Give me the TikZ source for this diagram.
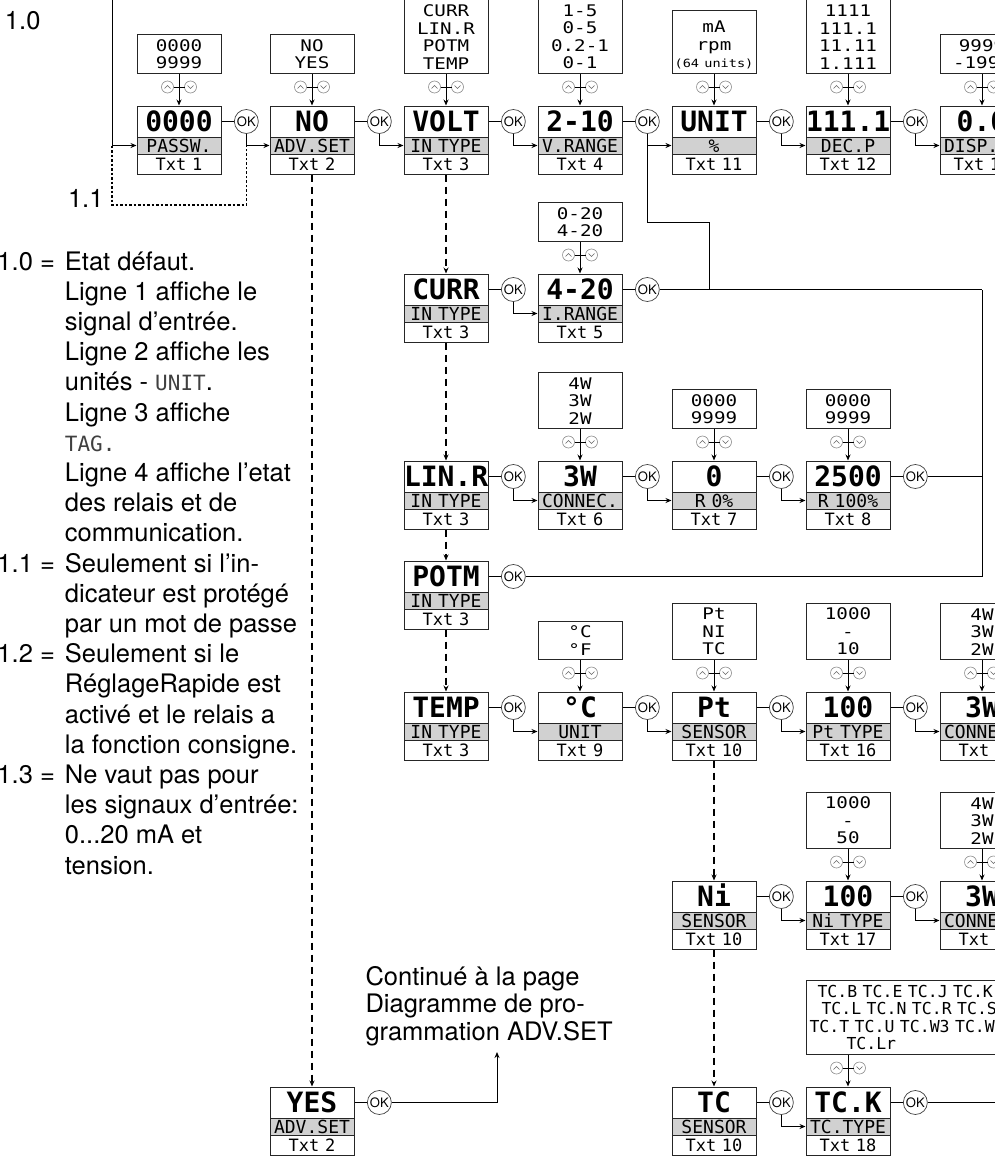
\documentclass[tikz,border=0pt]{standalone}
\usepackage{fontspec}
\setmainfont{TeX Gyre Heros}
\newfontfamily\lcdfont{DejaVu Sans Mono}
\newfontfamily\lcdwide[FakeStretch=1.2]{DejaVu Sans Mono}
\usetikzlibrary{arrows.meta, positioning}

% display: value / parameter / text number
\newcommand{\dispbox}[6]{%
  \node[dval] (#1) at (#2,#3+15.5) {#4};
  \node[dlab] (#1-l) at (#2,#3+39.5) {#5};
  \node[dtxt] (#1-t) at (#2,#3+58) {#6};
}
% choices above a display
\newcommand{\optbox}[4]{%
  \node[dopt] (#1-o) at (#2,#3-32) {#4};
  \pic at (#2,#3-19) {updn};
  \draw[->] (#1-o) -- (#1);
}
\newcommand{\lcdword}[1]{{\lcdfont\fontsize{21}{30.2}\selectfont\color{black!75}#1}}

\begin{document}
\begin{tikzpicture}[x=1pt, y=-1pt, line width=1pt,
    >={Stealth[length=6pt,width=5pt]},
    dval/.style={draw=black!85, text width=84pt, align=center, inner sep=0pt,
      minimum height=31pt, text height=20.5pt, text depth=0pt,
      font=\lcdfont\bfseries\fontsize{28}{28}\selectfont},
    dlab/.style={dval, fill=black!18, minimum height=17pt, text height=13pt,
      font=\lcdfont\fontsize{18}{18}\selectfont},
    dtxt/.style={dval, minimum height=20pt, text height=12.4pt,
      font=\lcdfont\fontsize{17}{17}\selectfont},
    dopt/.style={draw=black!85, anchor=south, text width=84pt, align=center,
      inner xsep=0pt, inner ysep=4.5pt, font=\lcdwide\fontsize{16}{17.5}\selectfont},
    okbtn/.style={circle, draw=black!75, line width=0.7pt, fill=white,
      minimum size=24pt, inner sep=0pt, font=\fontsize{13}{13}\selectfont},
    updc/.style={draw=black!45, line width=0.6pt},
    updv/.style={draw=black!60, line width=0.6pt},
    flowdash/.style={dash pattern=on 7pt off 5pt, line width=1.3pt},
    optdot/.style={dash pattern=on 2.5pt off 2pt, line width=1.3pt},
    note/.style={inner sep=0pt, anchor=north west, font=\fontsize{25.5}{30.2}\selectfont},
    updn/.pic={
      \draw[updc] (-11.5,0) circle[radius=6pt] (11.5,0) circle[radius=6pt];
      \draw[black] (-5.5,0) -- (5.5,0);
      \draw[updv] (-14.5,1.5) -- (-11.5,-1.5) -- (-8.5,1.5);
      \draw[updv] (8.5,-1.5) -- (11.5,1.5) -- (14.5,-1.5);
    }]

\path[use as bounding box, fill=white] (0,0) rectangle (995,1159);

% First row
\dispbox{pw}{179}{106}{0000}{PASSW.}{Txt 1}
\dispbox{adv}{312}{106}{NO}{ADV.SET}{Txt 2}
\dispbox{volt}{446}{106}{VOLT}{IN TYPE}{Txt 3}
\dispbox{vr}{580}{106}{2-10}{V.RANGE}{Txt 4}
\dispbox{unit}{714}{106}{UNIT}{\%}{Txt 11}
\dispbox{decp}{848}{106}{111.1}{DEC.P}{Txt 12}
\dispbox{disp}{982}{106}{0.0}{DISP.LO}{Txt 13}
\optbox{pw}{179}{106}{0000\\9999}
\optbox{adv}{312}{106}{NO\\YES}
\optbox{volt}{446}{106}{\mbox{}\\CURR\\LIN.R\\POTM\\TEMP}
\optbox{vr}{580}{106}{\mbox{}\\1-5\\0-5\\0.2-1\\0-1}
\optbox{unit}{714}{106}{\mbox{}\\mA\\rpm\\{\fontsize{11.3}{17.5}\selectfont(64 units)}}
\optbox{decp}{848}{106}{\mbox{}\\1111\\111.1\\11.11\\1.111}
\optbox{disp}{982}{106}{9999\\-1999}

% Input types
\dispbox{curr}{446}{274}{CURR}{IN TYPE}{Txt 3}
\dispbox{ir}{580}{274}{4-20}{I.RANGE}{Txt 5}
\optbox{ir}{580}{274}{0-20\\4-20}

\dispbox{linr}{446}{461}{LIN.R}{IN TYPE}{Txt 3}
\dispbox{con}{580}{461}{3W}{CONNEC.}{Txt 6}
\dispbox{r0}{714}{461}{0}{R 0\%}{Txt 7}
\dispbox{r100}{848}{461}{2500}{R 100\%}{Txt 8}
\optbox{con}{580}{461}{4W\\3W\\2W}
\optbox{r0}{714}{461}{0000\\9999}
\optbox{r100}{848}{461}{0000\\9999}

\dispbox{potm}{446}{561}{POTM}{IN TYPE}{Txt 3}

\dispbox{temp}{446}{692}{TEMP}{IN TYPE}{Txt 3}
\dispbox{tu}{580}{692}{°C}{UNIT}{Txt 9}
\dispbox{sen}{714}{692}{Pt}{SENSOR}{Txt 10}
\dispbox{ptt}{848}{692}{100}{Pt TYPE}{Txt 16}
\dispbox{con2}{982}{692}{3W}{CONNEC.}{Txt 6}
\optbox{tu}{580}{692}{°C\\°F}
\optbox{sen}{714}{692}{Pt\\NI\\TC}
\optbox{ptt}{848}{692}{1000\\-\\10}
\optbox{con2}{982}{692}{4W\\3W\\2W}

\dispbox{ni}{714}{881}{Ni}{SENSOR}{Txt 10}
\dispbox{nit}{848}{881}{100}{Ni TYPE}{Txt 17}
\dispbox{con3}{982}{881}{3W}{CONNEC.}{Txt 6}
\optbox{nit}{848}{881}{1000\\-\\50}
\optbox{con3}{982}{881}{4W\\3W\\2W}

\dispbox{yes}{312}{1087}{YES}{ADV.SET}{Txt 2}
\dispbox{tc}{714}{1087}{TC}{SENSOR}{Txt 10}
\dispbox{tck}{848}{1087}{TC.K}{TC.TYPE}{Txt 18}
\node[dopt, anchor=south west, text width=250pt, align=left, inner xsep=3pt,
  font=\lcdfont\fontsize{16.5}{17.5}\selectfont] (tck-o) at (806,1055)
  {\hspace*{8pt}TC.B TC.E TC.J TC.K\\\hspace*{12pt}TC.L TC.N TC.R TC.S\\TC.T TC.U TC.W3 TC.W5\\\hspace*{37pt}TC.Lr};
\pic at (848,1068) {updn};
\draw[->] (tck-o.south -| tck) -- (tck);

% OK keys and steps
\foreach \n in {pw,adv,volt,vr,unit,decp,curr,ir,linr,con,r0,r100,potm,temp,tu,sen,ptt,ni,nit,yes,tc,tck}{
  \node[okbtn, right=12.5pt of \n] (\n-ok) {OK};
  \draw (\n) -- (\n-ok);
}
\foreach \a/\b in {pw/adv,adv/volt,volt/vr,vr/unit,unit/decp,decp/disp,curr/ir,linr/con,con/r0,r0/r100,temp/tu,tu/sen,sen/ptt,ptt/con2,ni/nit,nit/con3,tc/tck}
  \draw[->] (\a-ok) |- (\b-l);
\foreach \a/\b in {adv-t/yes,volt-t/curr,curr-t/linr,linr-t/potm,potm-t/temp,sen-t/ni,ni-t/tc}
  \draw[flowdash,->] (\a) -- (\b);

% back to UNIT
\coordinate (trk) at (982,289.5);
\coordinate (jg) at (709,222);
\draw (vr-ok) |- (jg) -- (jg |- ir-ok);
\draw (ir-ok) -- (trk);
\draw (r100-ok) -- (r100-ok -| trk);
\draw (potm-ok) -| (trk);
\coordinate (tc-out) at (1000,1102.5);
\draw (tck-ok) -- (tc-out);

% entry and password
\coordinate (top-in) at (112,-5);
\coordinate (d11) at (112,205);
\draw[->] (top-in) |- (pw-l);
\draw[optdot] (top-in |- pw-l) -- (d11) -| (pw-ok.south |- adv-l);
\node[note, anchor=base west] (l10) at (4.5,29) {1.0};
\node[note, anchor=base west] (l11) at (67.5,207.5) {1.1};

% notes
\node[note] (notes) at (-3,248.4) {\begin{tabular}{@{}r@{\hspace{10pt}}l@{}}
1.0 = & Etat défaut.\\
 & Ligne 1 affiche le\\
 & signal d’entrée.\\
 & Ligne 2 affiche les\\
 & unités - \lcdword{UNIT}.\\
 & Ligne 3 affiche\\
 & \lcdword{TAG.}\\
 & Ligne 4 affiche l’etat\\
 & des relais et de\\
 & communication.\\
1.1 = & Seulement si l’in-\\
 & dicateur est protégé\\
 & par un mot de passe\\
1.2 = & Seulement si le\\
 & RéglageRapide est\\
 & activé et le relais a\\
 & la fonction consigne.\\
1.3 = & Ne vaut pas pour\\
 & les signaux d’entrée:\\
 & 0...20 mA et\\
 & tension.
\end{tabular}};

% continued
\node[note, font=\fontsize{25.5}{27.5}\selectfont] (cont) at (365,965.5)
  {\begin{tabular}{@{}l@{}}Continué à la page\\Diagramme de pro-\\grammation ADV.SET\end{tabular}};
\coordinate (cont-in) at (497,1052);
\draw[->] (yes-ok) -| (cont-in);
\end{tikzpicture}
\end{document}
